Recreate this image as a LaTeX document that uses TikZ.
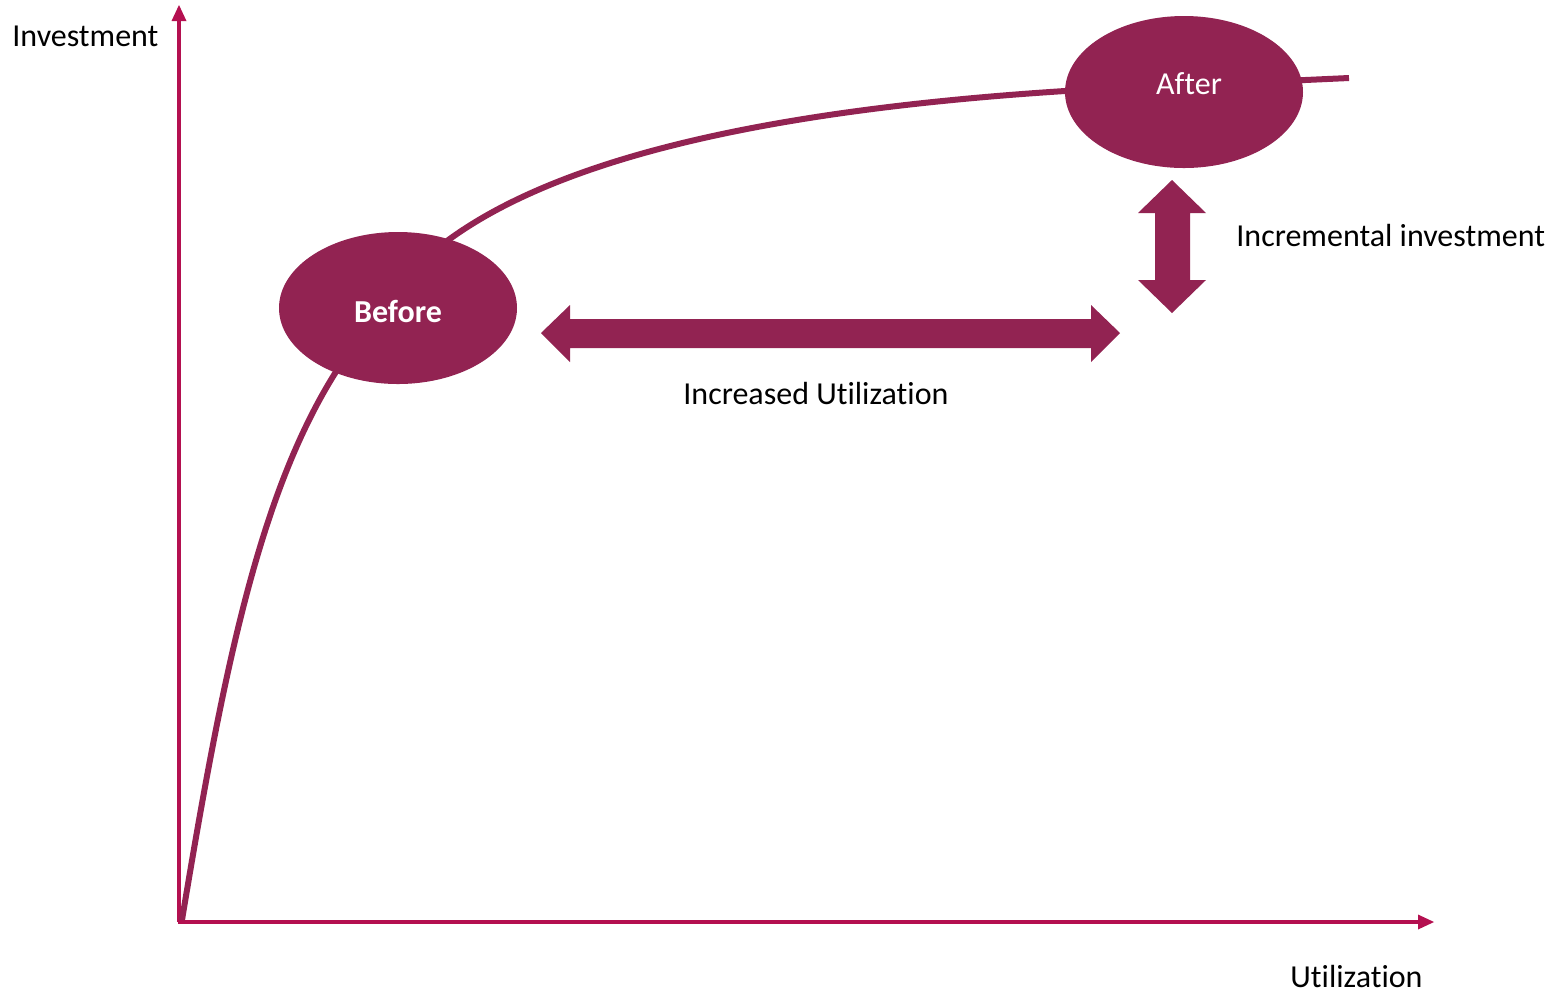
\documentclass[tikz,border=0pt]{standalone}
\usepackage{fontspec}
\setmainfont[Ligatures=NoCommon]{Carlito}
\usetikzlibrary{shapes.geometric}
\begin{document}
\begin{tikzpicture}[x=0.5pt,y=-0.5pt,
  axiscol/.style={draw=axisc, line width=2pt},
  lbl/.style={anchor=base west, inner sep=0pt, font=\fontsize{16}{19}\selectfont, text=black},
  blob/.style={ellipse, fill=plum, minimum width=119pt, minimum height=76pt, inner sep=0pt, text=white, font=\fontsize{16}{19}\selectfont}]
\definecolor{axisc}{RGB}{180,16,80}
\definecolor{plum}{RGB}{146,35,82}
\useasboundingbox (0,0) rectangle (1560,993);
% axes
\coordinate (O) at (179,922);
\coordinate (ytop) at (179,5);
\coordinate (xend) at (1434,922);
\draw[axiscol] (O) -- (179,20);
\fill[axisc] (ytop) -- (171.5,21) -- (186.5,21) -- cycle;
\draw[axiscol] (178,922) -- (1418,922);
\fill[axisc] (xend) -- (1418,914.5) -- (1418,929.5) -- cycle;
% curve
\draw[plum, line width=3pt] (182,920) .. controls (225,660) and (262,480) .. (345,358)
  .. controls (380,305) and (410,268) .. (447,241)
  .. controls (570,150) and (800,108) .. (1065,91)
  -- (1349,78);
% ellipses
\node[blob] (before) at (398,308) {};
\node[font=\fontsize{16}{19}\selectfont\bfseries, text=white, anchor=base, inner sep=0pt] (beforet) at (398,322) {Before};
\node[blob] (after) at (1184,92) {};
\node[font=\fontsize{16}{19}\selectfont, text=white, anchor=base, inner sep=0pt] (aftert) at (1189,94) {After};
% horizontal double arrow
\fill[plum] (541,333) -- (570,305) -- (570,319) -- (1091,319) -- (1091,305) -- (1120,333)
  -- (1091,362) -- (1091,348) -- (570,348) -- (570,362) -- cycle;
% vertical double arrow
\fill[plum] (1172,180) -- (1206,213) -- (1190,213) -- (1190,280) -- (1206,280) -- (1172,313)
  -- (1138,280) -- (1155,280) -- (1155,213) -- (1138,213) -- cycle;
% labels
\node[lbl] (inv) at (12,46) {Investment};
\node[lbl] (util) at (1290,987) {Utilization};
\node[lbl] (incinv) at (1236,246) {Incremental investment};
\node[lbl] (incutil) at (683,404) {Increased Utilization};
\end{tikzpicture}
\end{document}
